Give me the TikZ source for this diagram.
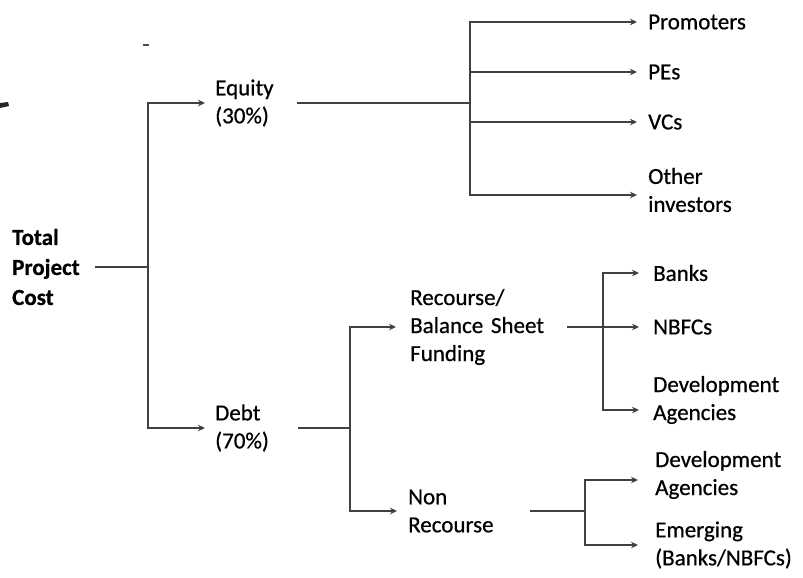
\documentclass[tikz,border=0pt]{standalone}
\usepackage{fontspec}
\setmainfont{Carlito}[FakeBold=0.6]
\usetikzlibrary{arrows.meta}
\begin{document}
\begin{tikzpicture}[x=1pt,y=-1pt,
  lbl/.style={anchor=west,inner sep=0pt,align=left,font=\fontsize{23}{28}\selectfont,text=black},
  ln/.style={draw=black!75,line width=1.7pt},
  arr/.style={ln,-{Stealth[open,length=7pt,width=6.5pt,line width=1.1pt]}}]
\useasboundingbox (0,0) rectangle (803,578);
% nodes
\node[lbl,text width=72pt,font=\fontsize{23}{30}\selectfont\bfseries] (tpc) at (12,267) {Total\\Project\\Cost};
\node[lbl,text width=70pt] (equity) at (215,103) {Equity\\(30\%)};
\node[lbl,text width=70pt] (debt) at (215,428) {Debt\\(70\%)};
\node[lbl] (prom) at (648,22) {Promoters};
\node[lbl] (pes) at (648,72) {PEs};
\node[lbl] (vcs) at (648,122) {VCs};
\node[lbl] (other) at (648,190) {Other\\investors};
\node[lbl,text width=140pt] (rec) at (410,327) {Recourse/\\Balance Sheet\\Funding};
\node[lbl,text width=95pt] (nonrec) at (408,511) {Non\\Recourse};
\node[lbl] (banks) at (653,273) {Banks};
\node[lbl] (nbfc) at (653,327) {NBFCs};
\node[lbl] (deva) at (653,400) {Development\\Agencies};
\node[lbl] (devb) at (655,475) {Development\\Agencies};
\node[lbl] (emerg) at (655,545) {Emerging\\(Banks/NBFCs)};
% junctions
\coordinate (j0) at (148,267);
\coordinate (j1) at (470,103);
\coordinate (j2) at (350,428);
\coordinate (j3) at (603,327);
\coordinate (j4) at (585,511);
% connectors
\draw[ln] ([xshift=11pt]tpc.east) -- (j0);
\draw[arr] (j0) |- ([xshift=-10pt]equity.west);
\draw[arr] (j0) |- ([xshift=-10pt]debt.west);
\draw[ln] ([xshift=12pt]equity.east) -- (j1);
\draw[arr] (j1) |- ([xshift=-11pt]prom.west);
\draw[arr] (j1) |- ([xshift=-11pt]pes.west);
\draw[arr] (j1) |- ([xshift=-11pt]vcs.west);
\draw[arr] (j1) |- ([xshift=-11pt,yshift=-5pt]other.west);
\draw[ln] ([xshift=13pt]debt.east) -- (j2);
\draw[arr] (j2) |- ([xshift=-14pt]rec.west);
\draw[arr] (j2) |- ([xshift=-11pt]nonrec.west);
\draw[ln] ([xshift=17pt]rec.east) -- (j3);
\draw[arr] (j3) |- ([xshift=-14pt]banks.west);
\draw[arr] (j3) |- ([xshift=-14pt]nbfc.west);
\draw[arr] (j3) |- ([xshift=-14pt,yshift=-10pt]deva.west);
\draw[ln] ([xshift=27pt]nonrec.east) -- (j4);
\draw[arr] (j4) |- ([xshift=-17pt,yshift=-5pt]devb.west);
\draw[arr] (j4) |- ([xshift=-17pt]emerg.west);
% scan marks
\fill[black!85] (0,103) -- (8,102) -- (9,106) -- (0,108) -- cycle;
\draw[black!70,line width=1.5pt] (143,45) -- (149,45);
\end{tikzpicture}
\end{document}
